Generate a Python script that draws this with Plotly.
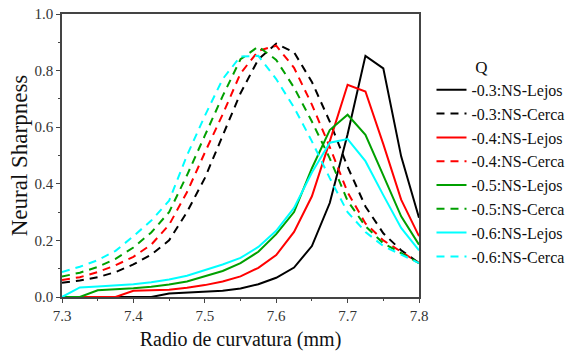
import plotly.graph_objects as go

x = [7.3, 7.325, 7.35, 7.375, 7.4, 7.425, 7.45, 7.475, 7.5, 7.525, 7.55,
     7.575, 7.6, 7.625, 7.65, 7.675, 7.7, 7.725, 7.75, 7.775, 7.8]

lejos_03 = [0, 0, 0, 0, 0, 0, 0.012, 0.015, 0.018, 0.022, 0.03, 0.045, 0.068,
            0.104, 0.18, 0.332, 0.575, 0.852, 0.808, 0.497, 0.28]
cerca_03 = [0.05, 0.058, 0.07, 0.088, 0.115, 0.15, 0.2, 0.3, 0.42, 0.57, 0.72,
            0.84, 0.895, 0.865, 0.76, 0.62, 0.46, 0.32, 0.225, 0.165, 0.12]
lejos_04 = [0, 0, 0, 0, 0.022, 0.023, 0.026, 0.033, 0.042, 0.055, 0.073, 0.103,
            0.148, 0.23, 0.356, 0.55, 0.75, 0.726, 0.54, 0.344, 0.215]
cerca_04 = [0.06, 0.07, 0.088, 0.112, 0.142, 0.185, 0.255, 0.37, 0.51, 0.645, 0.79,
            0.87, 0.888, 0.81, 0.68, 0.53, 0.37, 0.26, 0.2, 0.16, 0.12]
lejos_05 = [0, 0, 0.024, 0.027, 0.031, 0.036, 0.044, 0.055, 0.073, 0.092, 0.12,
            0.16, 0.222, 0.3, 0.455, 0.59, 0.644, 0.573, 0.43, 0.285, 0.185]
cerca_05 = [0.072, 0.086, 0.106, 0.135, 0.175, 0.228, 0.3, 0.43, 0.57, 0.71, 0.84,
            0.885, 0.838, 0.74, 0.62, 0.49, 0.34, 0.25, 0.19, 0.155, 0.12]
lejos_06 = [0, 0.034, 0.037, 0.04, 0.045, 0.052, 0.062, 0.075, 0.095, 0.115, 0.138,
            0.177, 0.234, 0.315, 0.44, 0.545, 0.558, 0.48, 0.36, 0.244, 0.165]
cerca_06 = [0.088, 0.107, 0.13, 0.163, 0.215, 0.27, 0.34, 0.5, 0.64, 0.77, 0.85,
            0.852, 0.77, 0.67, 0.55, 0.42, 0.3, 0.23, 0.18, 0.15, 0.12]

series = [
    ("-0.3:NS-Lejos", lejos_03, "#000000", "solid"),
    ("-0.3:NS-Cerca", cerca_03, "#000000", "dash"),
    ("-0.4:NS-Lejos", lejos_04, "#FF0000", "solid"),
    ("-0.4:NS-Cerca", cerca_04, "#FF0000", "dash"),
    ("-0.5:NS-Lejos", lejos_05, "#00A000", "solid"),
    ("-0.5:NS-Cerca", cerca_05, "#00A000", "dash"),
    ("-0.6:NS-Lejos", lejos_06, "#00FFFF", "solid"),
    ("-0.6:NS-Cerca", cerca_06, "#00FFFF", "dash"),
]

fig = go.Figure()
for name, ys, color, dash in series:
    fig.add_trace(go.Scatter(
        x=x, y=ys, mode="lines", name=name,
        line=dict(color=color, width=2, dash="8px,6px" if dash == "dash" else "solid"),
    ))

font_family = "Liberation Serif"
axis_common = dict(
    showline=True, linecolor="#444444", linewidth=1.5, mirror=True,
    showgrid=False, zeroline=False,
    ticks="outside", ticklen=4, tickwidth=1, tickcolor="#444444",
    tickfont=dict(family=font_family, size=15, color="#333333"),
)

fig.update_layout(
    width=574, height=351,
    margin=dict(l=62, r=155, t=14, b=54, autoexpand=False),
    paper_bgcolor="white", plot_bgcolor="white",
    font=dict(family=font_family, color="#111111"),
    xaxis=dict(range=[7.3, 7.8], tickvals=[7.3, 7.4, 7.5, 7.6, 7.7, 7.8],
               ticktext=["7.3", "7.4", "7.5", "7.6", "7.7", "7.8"],
               minor=dict(dtick=0.05, ticks="outside", ticklen=2, tickcolor="#444444"),
               title=dict(text="Radio de curvatura (mm)", font=dict(family=font_family, size=20), standoff=10),
               **axis_common),
    yaxis=dict(range=[0, 1.0], tickvals=[0, 0.2, 0.4, 0.6, 0.8, 1.0],
               ticktext=["0.0", "0.2", "0.4", "0.6", "0.8", "1.0"],
               minor=dict(dtick=0.1, ticks="outside", ticklen=2, tickcolor="#444444"),
               title=dict(text="Neural Sharpness", font=dict(family=font_family, size=23), standoff=0),
               **axis_common),
    legend=dict(
        x=1.035, y=0.87, xanchor="left", yanchor="top",
        font=dict(family=font_family, size=16, color="#111111"),
        title=dict(text="Q\u00a0\u00a0\u00a0\u00a0\u00a0\u00a0\u00a0\u00a0\u00a0",
                   font=dict(family=font_family, size=17), side="top center"),
        itemwidth=30, tracegroupgap=0, bgcolor="rgba(0,0,0,0)",
    ),
)

fig.write_html("out.html")
